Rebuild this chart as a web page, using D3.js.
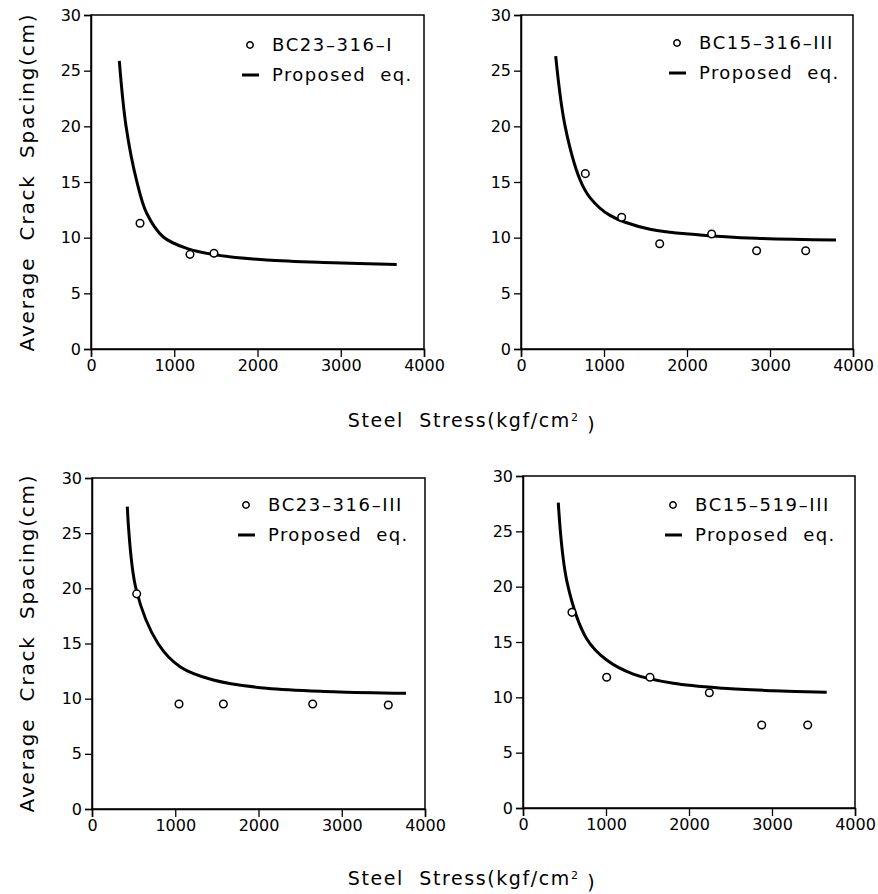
<!DOCTYPE html>
<html>
<head>
<meta charset="utf-8">
<script src="https://cdn.jsdelivr.net/npm/d3@7"></script>
<style>
  body { margin: 0; background: #fff; }
  text { font-family: "DejaVu Sans", sans-serif; fill: #000; }
</style>
</head>
<body>
<div id="chart"></div>
<script>
// tick labels
const xTicks = [0, 1000, 2000, 3000, 4000];
const yTicks = [0, 5, 10, 15, 20, 25, 30];

// series names
const specimens = ["BC23-316-I", "BC15-316-III", "BC23-316-III", "BC15-519-III"];

// measured points (steel stress kgf/cm2, crack spacing cm)
const p1Stress = [589, 1189, 1477];
const p1Spacing = [11.3, 8.5, 8.6];
const p2Stress = [775, 1213, 1671, 2297, 2839, 3430];
const p2Spacing = [15.75, 11.83, 9.46, 10.33, 8.83, 8.83];
const p3Stress = [537, 1045, 1578, 2651, 3559];
const p3Spacing = [19.5, 9.52, 9.52, 9.52, 9.43];
const p4Stress = [590, 1008, 1530, 2245, 2876, 3430];
const p4Spacing = [17.68, 11.81, 11.81, 10.42, 7.5, 7.5];

// proposed eq. curves
const c1Stress = [340, 420, 549, 669, 869, 1149, 1510, 2110, 2911, 3672];
const c1Spacing = [25.87, 20.06, 15.09, 12.19, 10.06, 9.04, 8.44, 7.99, 7.75, 7.6];
const c2Stress = [418, 530, 711, 831, 1072, 1554, 2157, 2839, 3795];
const c2Spacing = [26.3, 20.06, 15.2, 13.6, 12.0, 10.75, 10.24, 9.94, 9.79];
const c3Stress = [424, 529, 797, 1057, 1458, 2098, 2899, 3772];
const c3Spacing = [27.4, 19.94, 14.95, 12.9, 11.69, 10.94, 10.63, 10.48];
const c4Stress = [425, 534, 767, 1008, 1329, 1811, 2414, 3016, 3659];
const c4Spacing = [27.59, 20.3, 15.3, 13.37, 12.1, 11.27, 10.82, 10.6, 10.45];

const pts = [[p1Stress, p1Spacing], [p2Stress, p2Spacing], [p3Stress, p3Spacing], [p4Stress, p4Spacing]];
const curves = [[c1Stress, c1Spacing], [c2Stress, c2Spacing], [c3Stress, c3Spacing], [c4Stress, c4Spacing]];

const W = 878, H = 894;
const svg = d3.select("#chart").append("svg")
    .attr("width", W).attr("height", H);

// panel boxes: left, top, width, height, legend anchor
const boxes = [
    { x: 91, y: 15, w: 333, h: 334, lx: 250, ly: 45 },
    { x: 521, y: 15, w: 332, h: 334, lx: 677, ly: 43 },
    { x: 92, y: 478, w: 333, h: 331, lx: 246, ly: 505 },
    { x: 523, y: 476, w: 332, h: 332, lx: 673, ly: 505 }
];

boxes.forEach((b, i) => {
    let g = svg.append("g").attr("transform", "translate(" + b.x + "," + b.y + ")");

    let x = d3.scaleLinear().domain([0, 4000]).range([0, b.w]);
    let y = d3.scaleLinear().domain([0, 30]).range([b.h, 0]);

    // frame
    g.append("rect")
        .attr("width", b.w).attr("height", b.h)
        .attr("fill", "none").attr("stroke", "#000").attr("stroke-width", 1.5);

    let xAxis = g.append("g")
        .attr("transform", "translate(0," + b.h + ")")
        .call(d3.axisBottom(x).tickValues(xTicks).tickSize(8).tickPadding(3).tickFormat(d3.format("d")));
    let yAxis = g.append("g")
        .call(d3.axisLeft(y).tickValues(yTicks).tickSize(7).tickPadding(3));

    [xAxis, yAxis].forEach(a => {
        a.select(".domain").attr("stroke-width", 1.5);
        a.selectAll(".tick line").attr("stroke-width", 1.3);
        a.selectAll("text").style("font-family", "DejaVu Sans, sans-serif").style("font-size", "16px");
    });

    let line = d3.line()
        .x(d => x(d[0]))
        .y(d => y(d[1]))
        .curve(d3.curveCatmullRom.alpha(0.5));

    let cs = curves[i];
    g.append("path")
        .datum(cs[0].map((v, k) => [v, cs[1][k]]))
        .attr("d", line)
        .attr("fill", "none").attr("stroke", "#000").attr("stroke-width", 3);

    let ps = pts[i];
    g.selectAll(".pt")
        .data(ps[0].map((v, k) => [v, ps[1][k]]))
        .enter().append("circle")
        .attr("class", "pt")
        .attr("cx", d => x(d[0])).attr("cy", d => y(d[1]))
        .attr("r", 3.8)
        .attr("fill", "#fff").attr("stroke", "#000").attr("stroke-width", 1.5);

    // legend
    let lg = svg.append("g").attr("transform", "translate(" + b.lx + "," + b.ly + ")");
    lg.append("circle").attr("r", 3.2).attr("fill", "#fff").attr("stroke", "#000").attr("stroke-width", 1.5);
    lg.append("text").attr("x", 22).attr("y", 0).attr("dy", "0.35em")
        .style("font-size", "18px").style("letter-spacing", "1.6px").text(specimens[i].replace(/-/g, "\u2013"));
    lg.append("line").attr("x1", -8).attr("x2", 9).attr("y1", 30).attr("y2", 30)
        .attr("stroke", "#000").attr("stroke-width", 3);
    lg.append("text").attr("x", 22).attr("y", 30).attr("dy", "0.35em")
        .style("font-size", "18px").style("letter-spacing", "1.4px").style("white-space", "pre")
        .text("Proposed  eq.");
});

// axis titles
[182, 643].forEach(cy => {
    svg.append("text")
        .attr("transform", "translate(34," + cy + ") rotate(-90)")
        .attr("text-anchor", "middle")
        .style("font-size", "20px").style("letter-spacing", "1.8px").style("white-space", "pre")
        .text("Average  Crack  Spacing(cm)");
});

[420, 878].forEach(cy => {
    let t = svg.append("text")
        .attr("x", 472).attr("y", cy).attr("dy", "0.35em")
        .attr("text-anchor", "middle")
        .style("font-size", "19px").style("letter-spacing", "1.6px").style("white-space", "pre");
    t.append("tspan").text("Steel  Stress(kgf/cm");
    t.append("tspan").attr("dy", "-0.5em").style("font-size", "11px").text("2");
    t.append("tspan").attr("dy", "0.5em").text(" )");
});
</script>
</body>
</html>
